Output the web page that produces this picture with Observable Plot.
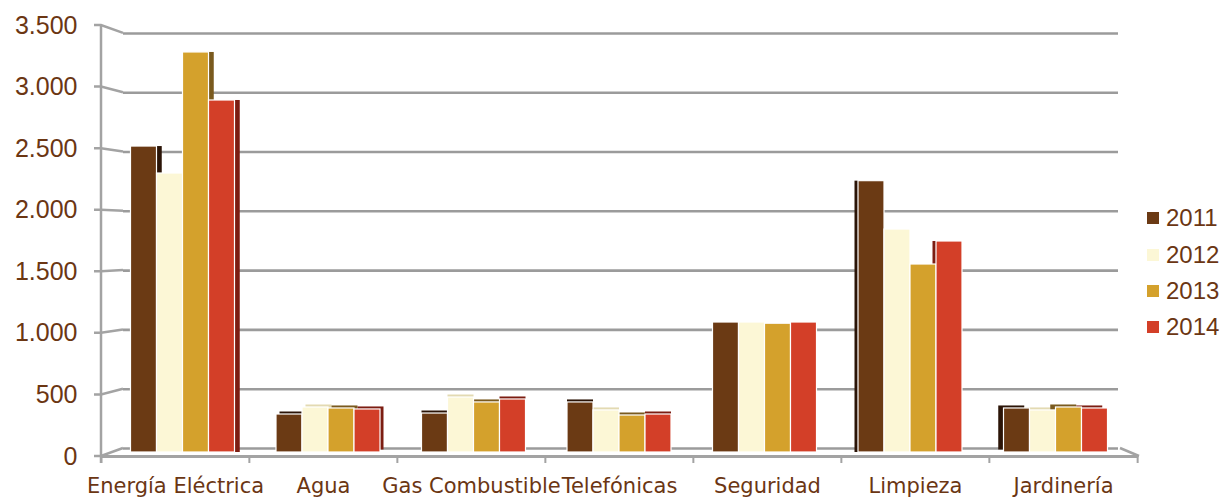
<!DOCTYPE html>
<html><head><meta charset="utf-8">
<script src="https://cdn.jsdelivr.net/npm/d3@7"></script>
<script src="https://cdn.jsdelivr.net/npm/@observablehq/plot@0.6"></script>
<style>
html,body{margin:0;padding:0;background:#fff;}
#wrap{position:relative;width:1225px;height:498px;overflow:hidden;}
#legend{position:absolute;left:1147px;top:0;font-family:"Liberation Sans",sans-serif;font-size:24px;color:#6b3613;}
#legend .item{position:absolute;left:0;display:flex;align-items:center;white-space:nowrap;height:24px;}
#legend .sw{width:12px;height:12px;margin-right:7px;}
</style></head><body>
<div id="wrap"><div id="legend"></div></div>
<script>
// ---- data ----
const categories = ["Energía Eléctrica", "Agua", "Gas Combustible", "Telefónicas", "Seguridad", "Limpieza", "Jardinería"];
const years = ["2011", "2012", "2013", "2014"];
const values2011 = [2517, 341, 349, 439, 1088, 2236, 390];
const values2012 = [2298, 398, 479, 374, 1088, 1843, 374];
const values2013 = [3281, 390, 439, 333, 1078, 1559, 398];
const values2014 = [2891, 382, 463, 341, 1088, 1746, 390];
const yTicks = [0, 500, 1000, 1500, 2000, 2500, 3000, 3500];
const yTickLabels = ["0", "500", "1.000", "1.500", "2.000", "2.500", "3.000", "3.500"];

// ---- styles ----
const barColors = ["#6b3a14", "#fcf7d6", "#d4a12c", "#d33f28"];
const faceColors = ["#2b1407", "#e3dab2", "#7a5a1e", "#7c1d12"];
const textColor = "#6b3613";
const lineColor = "#a3a3a3";
const gridColor = "#9b9b9b";

const W = 1225, H = 498, ML = 100, MR = 87, MT = 25, MB = 42;
const halfBand = (W - ML - MR) / categories.length / 2;
const depthX = 22;                      // back wall offset
const backValue = v => 65 + 0.963 * v;  // perspective: back wall position in value units
const shiftOf = i => 2.5 * (3 - i);     // perspective shift of a group
const series = [values2011, values2012, values2013, values2014];

const rows = categories.flatMap((c, i) => years.map((y, j) => ({cat: c, year: y, value: series[j][i]})));
const gridData = categories.flatMap(c => yTicks.map(t => ({cat: c, v: t})));
const colorOf = d => barColors[years.indexOf(d.year)];
const faceOf = d => faceColors[years.indexOf(d.year)];

const gridOpts = {fx: "cat", y: d => backValue(d.v), stroke: gridColor, strokeWidth: 2.6};

const barMarks = categories.flatMap((c, i) => {
  const data = rows.filter(r => r.cat === c);
  const s = shiftOf(i);
  const side = Math.abs(s) >= 4 ? 0.7 * s : 0;   // side faces only visible away from the centre
  const low = d3.max(data, d => d.value) < 600;  // low bars show their top face
  return [
    Plot.barY(data, {fx: "cat", x: "year", y: "value", fill: faceOf, insetBottom: 4, dx: s + side, dy: low ? -2.5 : 0}),
    Plot.barY(data, {fx: "cat", x: "year", y: "value", fill: colorOf, stroke: "white", strokeWidth: 1.2, insetBottom: 4, dx: s})
  ];
});

const decor = Plot.ruleY([{cat: categories[0]}], {
  fx: "cat", y: () => 0,
  render: (index, scales, values, dims, context) => {
    const y = scales.y;
    const g = d3.create("svg:g").attr("fill", "none").attr("stroke", lineColor).attr("stroke-width", 2.5);
    g.append("path").attr("d", `M${ML},${y(yTicks[yTicks.length - 1])}V${y(0) + 7}`);
    for (const t of yTicks) {
      g.append("path").attr("d", `M${ML - 7},${y(t)}H${ML}L${ML + depthX},${y(backValue(t))}`);
    }
    g.append("path").attr("d", `M${W - MR - 19},${y(backValue(0))}L${W - MR},${y(0)}`);
    return g.node();
  }
});

const chart = Plot.plot({
  width: W, height: H,
  marginLeft: ML, marginRight: MR, marginTop: MT, marginBottom: MB,
  style: {fontFamily: "DejaVu Sans", fontSize: "21px", color: textColor, background: "white", overflow: "visible"},
  fx: {domain: categories, padding: 0, label: null},
  x: {domain: years, paddingInner: 0, paddingOuter: 0.825, axis: null},
  y: {domain: [0, 3500], label: null},
  color: {type: "identity"},
  marks: [
    Plot.ruleY(gridData.filter(d => d.cat === categories[0]), {...gridOpts, insetLeft: depthX}),
    Plot.ruleY(gridData.filter(d => d.cat !== categories[0] && d.cat !== categories[categories.length - 1]), gridOpts),
    Plot.ruleY(gridData.filter(d => d.cat === categories[categories.length - 1]), {...gridOpts, insetRight: 19}),
    decor,
    ...barMarks,
    Plot.ruleY(categories.map(c => ({cat: c})), {fx: "cat", y: () => 0, stroke: lineColor, strokeWidth: 3}),
    Plot.axisFx({anchor: "bottom", tickSize: 7, tickFormat: () => "", dx: -halfBand, stroke: lineColor, strokeWidth: 2, label: null}),
    Plot.axisFx({anchor: "bottom", ticks: [categories[categories.length - 1]], tickSize: 7, tickFormat: () => "", dx: halfBand, stroke: lineColor, strokeWidth: 2, label: null}),
    Plot.axisFx({anchor: "bottom", tickSize: 0, tickPadding: 22, fontSize: 21, fill: textColor, label: null}),
    Plot.axisY({ticks: yTicks, tickFormat: d => yTickLabels[yTicks.indexOf(d)], tickSize: 0, tickPadding: 24, fontSize: 25, fontFamily: "Liberation Sans", fill: textColor, label: null})
  ]
});
document.getElementById("wrap").prepend(chart);

// legend
const legend = document.getElementById("legend");
const legendTop = [206, 243, 279, 315];
years.forEach((y, j) => {
  const item = document.createElement("div");
  item.className = "item";
  item.style.top = legendTop[j] + "px";
  item.innerHTML = `<div class="sw" style="background:${barColors[j]}"></div><span>${y}</span>`;
  legend.appendChild(item);
});
</script>
</body></html>
